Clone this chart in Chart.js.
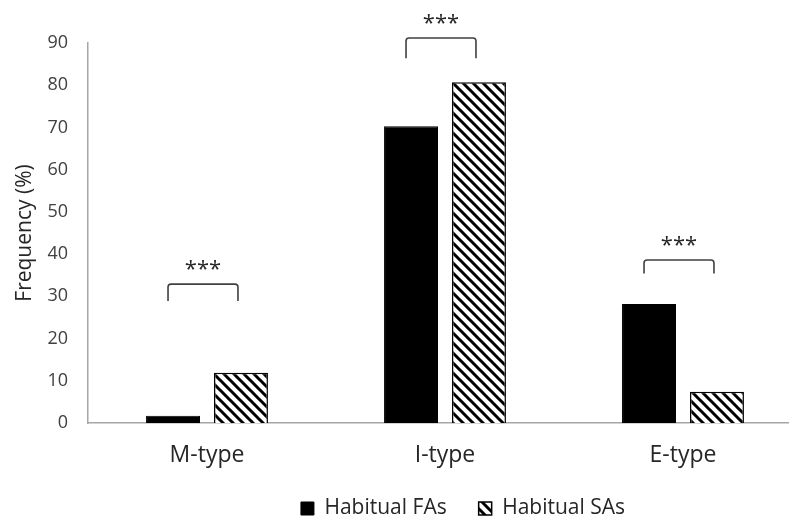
<!DOCTYPE html>
<html>
<head>
<meta charset="utf-8">
<script src="https://cdn.jsdelivr.net/npm/chart.js@4/dist/chart.umd.min.js"></script>
<style>
  html, body { margin: 0; padding: 0; background: #fff; overflow: hidden; }
  #wrap { width: 802px; height: 518px; }
</style>
</head>
<body>
<div id="wrap"><canvas id="freq"></canvas></div>
<script>
var categories = ['M-type', 'I-type', 'E-type'];
var habitualFAs = [1.7, 70.3, 28.2];
var habitualSAs = [11.9, 80.7, 7.4];
var yTicks = [0, 10, 20, 30, 40, 50, 60, 70, 80, 90];
// significance brackets: top and leg bottom, in % units
var bracketTop = [32.9, 91.2, 38.6];
var bracketLeg = [28.9, 86.4, 35.4];
var sigLabels = ['***', '***', '***'];

var FONT = '"Open Sans", "Noto Sans", sans-serif';

function hatch() {
    var c = document.createElement('canvas');
    c.width = 10; c.height = 10;
    var g = c.getContext('2d');
    g.fillStyle = '#fff';
    g.fillRect(0, 0, 10, 10);
    g.strokeStyle = '#000';
    g.lineWidth = 3;
    g.beginPath();
    g.moveTo(-3, -3); g.lineTo(13, 13);
    g.moveTo(-13, -3); g.lineTo(3, 13);
    g.moveTo(7, -3); g.lineTo(23, 13);
    g.stroke();
    return g.createPattern(c, 'repeat');
}

// the legend in the original sits right of centre
var legendShift = {
    id: 'legendShift',
    afterLayout: function(chart) {
        var lg = chart.legend;
        lg.left += 62; lg.right += 62;
        lg.top -= 5; lg.bottom -= 5;
    }
};

var brackets = {
    id: 'brackets',
    afterDatasetsDraw: function(chart) {
        var ctx = chart.ctx, y = chart.scales.y;
        var a = chart.getDatasetMeta(0).data, b = chart.getDatasetMeta(1).data;
        ctx.save();
        ctx.strokeStyle = '#404040';
        ctx.lineWidth = 1.6;
        for (var i = 0; i < categories.length; i++) {
            var x1 = a[i].x - 5, x2 = b[i].x - 3;
            var yt = y.getPixelForValue(bracketTop[i]);
            var yl = y.getPixelForValue(bracketLeg[i]);
            ctx.beginPath();
            ctx.moveTo(x1, yl);
            ctx.lineTo(x1, yt + 3);
            ctx.quadraticCurveTo(x1, yt, x1 + 3, yt);
            ctx.lineTo(x2 - 3, yt);
            ctx.quadraticCurveTo(x2, yt, x2, yt + 3);
            ctx.lineTo(x2, yl);
            ctx.stroke();
            ctx.fillStyle = '#262626';
            ctx.font = '22px ' + FONT;
            ctx.textAlign = 'center';
            ctx.textBaseline = 'alphabetic';
            ctx.fillText(sigLabels[i], (x1 + x2) / 2, yt - 8);
        }
        ctx.restore();
    }
};

new Chart(document.getElementById('freq'), {
    type: 'bar',
    data: {
        labels: categories,
        datasets: [{
            label: 'Habitual FAs',
            data: habitualFAs,
            backgroundColor: '#000',
            borderColor: '#000',
            borderWidth: 1
        }, {
            label: 'Habitual SAs',
            data: habitualSAs,
            backgroundColor: hatch(),
            borderColor: '#000',
            borderWidth: 1.5
        }]
    },
    plugins: [brackets, legendShift],
    options: {
        responsive: true,
        maintainAspectRatio: false,
        animation: false,
        layout: { padding: { top: 43, right: 0, left: 0, bottom: -16 } },
        datasets: { bar: { categoryPercentage: 0.571, barPercentage: 0.794 } },
        plugins: {
            tooltip: { enabled: false },
            legend: {
                position: 'bottom',
                labels: {
                    color: '#262626',
                    font: { family: FONT, size: 21 },
                    boxWidth: 13, boxHeight: 13,
                    padding: 32
                }
            }
        },
        scales: {
            x: {
                grid: { display: false, drawTicks: false },
                border: { display: true, color: '#a6a6a6', width: 1.5 },
                ticks: { color: '#262626', font: { family: FONT, size: 23 }, padding: 19 },
                afterFit: function(s) { s.height = 48; }
            },
            y: {
                min: 0, max: 90,
                afterBuildTicks: function(s) { s.ticks = yTicks.map(function(v) { return { value: v }; }); },
                grid: { display: false, drawTicks: false },
                border: { display: true, color: '#a6a6a6', width: 1.5 },
                ticks: { color: '#404040', font: { family: FONT, size: 18 }, padding: 20 },
                title: {
                    display: true, text: 'Frequency (%)',
                    color: '#262626', font: { family: FONT, size: 21 },
                    padding: { top: 12, bottom: 0 }
                },
                afterFit: function(s) { s.width = 88; }
            }
        }
    }
});
</script>
</body>
</html>
